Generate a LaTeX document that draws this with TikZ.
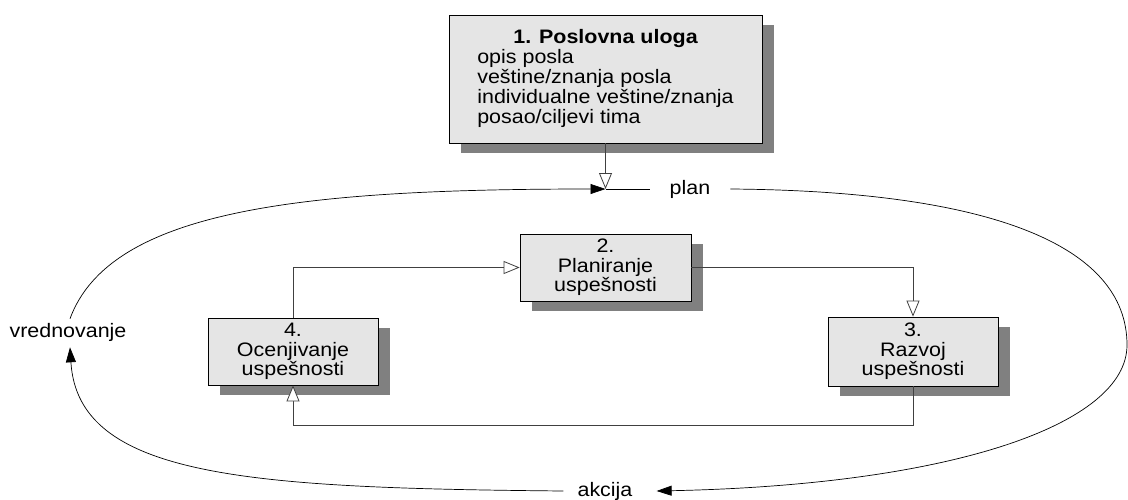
\documentclass[tikz,border=0pt]{standalone}
\usepackage{fontspec}
\setmainfont{Liberation Sans}[FakeStretch=1.1]
\usetikzlibrary{arrows.meta,shadows,calc}
\begin{document}
\begin{tikzpicture}[x=1pt,y=-1pt,
  every node/.style={font=\fontsize{19.5}{19.5}\selectfont},
  box/.style={draw=black, line width=0.8pt, fill=black!10, align=center, inner sep=0pt,
    drop shadow={shadow xshift=12pt, shadow yshift=-10pt, fill=black!50, opacity=1}},
  lbl/.style={inner ysep=2pt},
  link/.style={draw=black!75, line width=0.8pt, -{Triangle[open,fill=white,length=16pt,width=13pt]}},
  cycle/.style={draw=black, line width=0.7pt, -{Triangle[length=15pt,width=10pt]}},
  plainline/.style={draw=black, line width=0.7pt}]
\useasboundingbox (0,0) rectangle (1128,499);

\node[box, minimum width=313pt, minimum height=128pt] (b1) at (605.5,79)
  {\begin{tabular}{@{}l@{}}\multicolumn{1}{@{}c@{}}{\bfseries 1. Poslovna uloga}\\
   opis posla\\ veštine/znanja posla\\ individualne veštine/znanja\\ posao/ciljevi tima\end{tabular}};
\node[box, minimum width=171pt, minimum height=67pt] (b2) at (605.5,267.5) {2.\\ Planiranje\\ uspešnosti};
\node[box, minimum width=170pt, minimum height=69pt] (b3) at (913,351.5) {3.\\ Razvoj\\ uspešnosti};
\node[box, minimum width=170pt, minimum height=67pt] (b4) at (293,351.5) {4.\\ Ocenjivanje\\ uspešnosti};

\coordinate (j) at (605.5,189);
\node[lbl, inner xsep=20pt] (plan) at (690,189) {plan};
\node[lbl, inner xsep=3pt, inner ysep=4pt] (vred) at (68,332) {vrednovanje};
\node[lbl, inner xsep=14pt] (akc) at (605,491) {akcija};

% cycle
\draw[link] (b1.south) -- (j);
\draw[cycle] ([xshift=2pt]vred.north) .. controls (110,210) and (300,189) .. (j);
\draw[plainline] (j) -- (plan.west);
\draw[cycle] (plan.east) .. controls (990,191) and (1127,245) .. (1127,345)
  .. controls (1127,425) and (950,485) .. ([xshift=10pt]akc.east);
\draw[cycle] (akc.west) .. controls (250,488) and (78,478) .. ([xshift=2pt,yshift=-2pt]vred.south);

% internal connectors
\draw[link] (b4.north) |- (b2.west);
\draw[link] (b2.east) -| (b3.north);
\draw[link] (b3.south) -- ++(0,39) -| (b4.south);
\end{tikzpicture}
\end{document}
